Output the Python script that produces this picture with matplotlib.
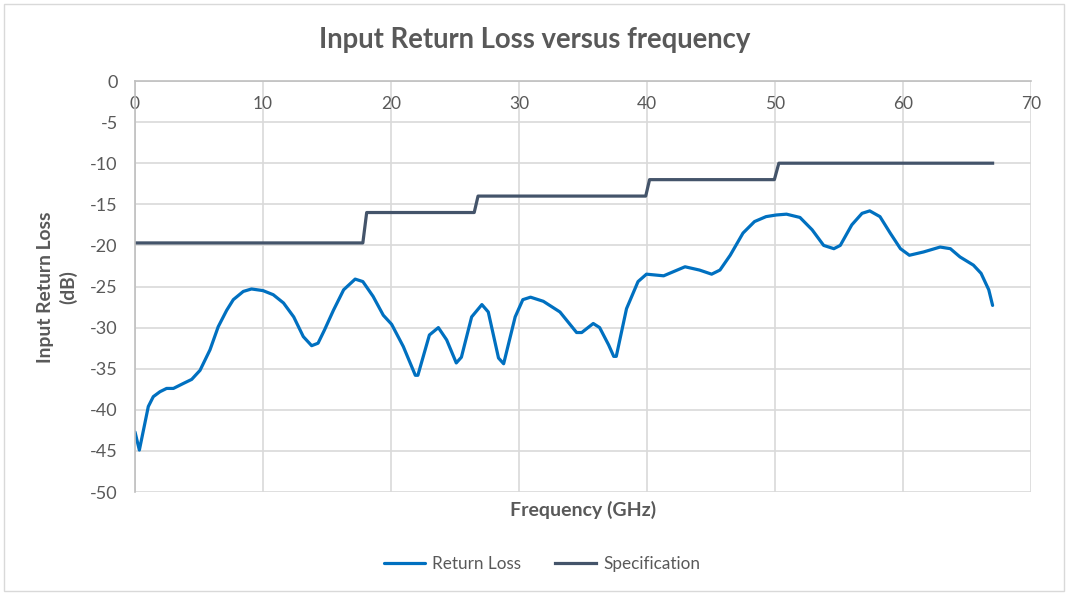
import numpy as np
import matplotlib
matplotlib.use("Agg")
import matplotlib.pyplot as plt
from matplotlib.patches import Rectangle

plt.rcParams['font.family'] = ['Lato', 'DejaVu Sans']
plt.rcParams['axes.unicode_minus'] = False

# Measured return loss (dB) vs frequency (GHz)
freq_rl = [0.0, 0.34, 1.04, 1.43, 1.95, 2.47, 3.0, 3.77, 4.43, 5.08, 5.86, 6.5, 7.16, 7.68,
           8.46, 9.1, 10.0, 10.8, 11.6, 12.4, 13.15, 13.8, 14.3, 14.8, 15.5, 16.3, 17.2,
           17.8, 18.6, 19.4, 20.05, 20.96, 21.9, 22.1, 23.0, 23.7, 24.35, 25.1, 25.5,
           26.3, 27.1, 27.6, 28.4, 28.8, 29.7, 30.3, 30.9, 31.9, 33.2, 34.5, 34.9, 35.8,
           36.3, 37.0, 37.4, 37.6, 38.4, 39.3, 39.96, 41.3, 42.97, 44.1, 45.05, 45.7,
           46.5, 47.5, 48.4, 49.3, 50.1, 50.9, 51.95, 52.9, 53.8, 54.6, 55.1, 56.0, 56.8,
           57.4, 58.2, 59.0, 59.8, 60.5, 61.6, 62.9, 63.7, 64.45, 65.5, 66.1, 66.7, 67.0]
return_loss = [-42.7, -44.9, -39.6, -38.4, -37.8, -37.4, -37.4, -36.8, -36.3, -35.2, -32.7,
               -29.9, -27.9, -26.6, -25.6, -25.3, -25.5, -26.0, -27.0, -28.7, -31.1, -32.2,
               -31.9, -30.3, -27.9, -25.4, -24.1, -24.4, -26.2, -28.5, -29.6, -32.3, -35.8,
               -35.8, -30.9, -30.0, -31.5, -34.3, -33.6, -28.7, -27.2, -28.1, -33.7, -34.4,
               -28.7, -26.6, -26.3, -26.8, -28.1, -30.6, -30.6, -29.5, -30.0, -32.1, -33.5,
               -33.5, -27.7, -24.4, -23.5, -23.7, -22.6, -23.0, -23.5, -23.0, -21.2, -18.5,
               -17.1, -16.5, -16.3, -16.2, -16.6, -18.1, -20.0, -20.4, -20.0, -17.5, -16.1,
               -15.8, -16.5, -18.5, -20.4, -21.2, -20.8, -20.2, -20.4, -21.4, -22.4, -23.4,
               -25.4, -27.3]

# Specification mask
freq_spec = [0.0, 17.8, 18.1, 26.5, 26.8, 39.9, 40.2, 49.95, 50.3, 67.0]
spec = [-19.7, -19.7, -16.0, -16.0, -14.0, -14.0, -12.0, -12.0, -10.0, -10.0]

x_ticks = [0, 10, 20, 30, 40, 50, 60, 70]
y_ticks = [0, -5, -10, -15, -20, -25, -30, -35, -40, -45, -50]

text_color = "#595959"
grid_color = "#d9d9d9"

fig = plt.figure(figsize=(10.69, 5.95), dpi=100)
fig.patches.append(Rectangle((4 / 1069, 4 / 595), 1060 / 1069, 587 / 595,
                             transform=fig.transFigure, fill=False,
                             edgecolor=grid_color, linewidth=1))
ax = fig.add_axes([135 / 1069, 1 - 492 / 595, (1031 - 135) / 1069, (492 - 81) / 595])

ax.plot(freq_rl, return_loss, color="#0070C0", lw=2.3, label="Return Loss",
        solid_joinstyle="round", solid_capstyle="round")
ax.plot(freq_spec, spec, color="#44546A", lw=2.3, label="Specification")

ax.set_xlim(0, 70)
ax.set_ylim(-50, 0)
ax.set_xticks(x_ticks)
ax.set_yticks(y_ticks)
ax.grid(True, color=grid_color, lw=1.2)
ax.set_axisbelow(True)

for side in ["bottom", "right"]:
    ax.spines[side].set_visible(False)
for side in ["top", "left"]:
    ax.spines[side].set_color("#bfbfbf")
    ax.spines[side].set_linewidth(1.2)

ax.tick_params(axis="x", top=True, labeltop=True, bottom=False, labelbottom=False,
               length=0, pad=-22, labelsize=12.5, labelcolor=text_color)
ax.tick_params(axis="y", length=0, pad=12.5, labelsize=13, labelcolor=text_color)

fig.text(535 / 1069, 1 - 40 / 595, "Input Return Loss versus frequency", ha="center",
         va="center", fontsize=19.8, fontweight="bold", color=text_color)
fig.text(583 / 1069, 1 - 510 / 595, "Frequency (GHz)", ha="center", va="center",
         fontsize=14, fontweight="bold", color=text_color)
fig.text(57 / 1069, 1 - 287 / 595, "Input Return Loss\n(dB)", ha="center", va="center",
         rotation=90, fontsize=13.9, fontweight="bold", color=text_color, linespacing=1.3)

leg = fig.legend(loc="center", bbox_to_anchor=(542 / 1069, 1 - 564 / 595), ncol=2,
                 frameon=False, fontsize=12.3, handlelength=2.4, handletextpad=0.4,
                 columnspacing=2.0)
for t in leg.get_texts():
    t.set_color(text_color)

fig.savefig("out.png", dpi=100)
